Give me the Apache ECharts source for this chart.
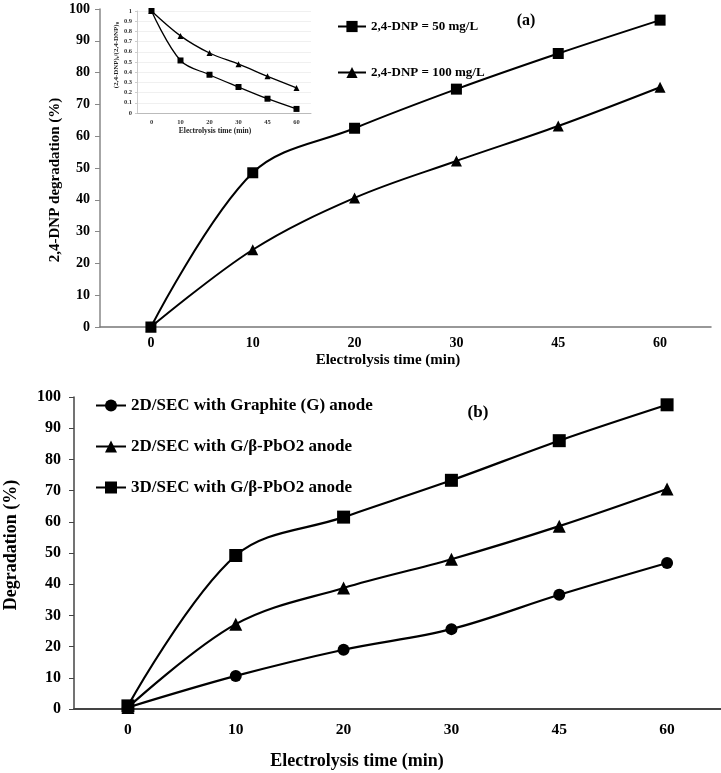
<!DOCTYPE html>
<html><head><meta charset="utf-8">
<script src="https://cdn.jsdelivr.net/npm/echarts@6/dist/echarts.min.js"></script>
<style>html,body{margin:0;padding:0;background:#fff}#c{width:721px;height:773px}</style>
</head><body><div id="c"></div>
<script>
const categories = ['0', '10', '20', '30', '45', '60'];
// Panel (a)
const a50 = [0, 48.5, 62.5, 74.8, 86, 96.5];
const a100 = [0, 24.3, 40.6, 52.2, 63.2, 75.4];
// Inset of panel (a): (2,4-DNP)t/(2,4-DNP)0
const inset50 = [1, 0.515, 0.375, 0.255, 0.14, 0.04];
const inset100 = [1, 0.756, 0.588, 0.479, 0.36, 0.246];
// Panel (b)
const bGraphite = [0.5, 10.6, 19, 25.6, 36.6, 46.8];
const bPbO2 = [0.5, 27.2, 38.8, 48, 58.6, 70.5];
const b3D = [1, 49.2, 61.5, 73.3, 86, 97.5];

const names = {
  a50: '2,4-DNP = 50 mg/L',
  a100: '2,4-DNP = 100 mg/L',
  bG: '2D/SEC with Graphite (G) anode',
  bP: '2D/SEC with G/β-PbO2 anode',
  b3: '3D/SEC with G/β-PbO2 anode'
};

const FF = '"Liberation Serif", "Times New Roman", serif';
const chart = echarts.init(document.getElementById('c'));

function lbl(size, extra) {
  return Object.assign({ fontFamily: FF, fontWeight: 'bold', fontSize: size, color: '#000' }, extra || {});
}
function ser(name, data, sym, size, xi, width, z) {
  return {
    name: name, type: 'line', data: data, xAxisIndex: xi, yAxisIndex: xi,
    smooth: 0.35, symbol: sym, symbolSize: size, showSymbol: true,
    lineStyle: { color: '#000', width: width },
    itemStyle: { color: '#000', borderWidth: 0 },
    z: z || 2
  };
}

const option = {
  animation: false,
  backgroundColor: '#fff',
  grid: [
    { left: 100, right: 10, top: 9, height: 318 },
    { left: 74, right: 0, top: 397, height: 312 },
    { left: 137, width: 174, top: 11, height: 102, show: true, backgroundColor: '#fff', borderWidth: 0, z: 5 }
  ],
  xAxis: [
    { type: 'category', gridIndex: 0, data: categories, boundaryGap: true,
      axisLine: { lineStyle: { color: '#777', width: 1.5 } }, axisTick: { show: false },
      axisLabel: lbl(14, { margin: 9 }) },
    { type: 'category', gridIndex: 1, data: categories, boundaryGap: true,
      axisLine: { lineStyle: { color: '#444', width: 2 } }, axisTick: { show: false },
      axisLabel: lbl(15.5, { margin: 13 }) },
    { type: 'category', gridIndex: 2, data: categories, boundaryGap: true, z: 6,
      axisLine: { lineStyle: { color: '#bbb', width: 1 } }, axisTick: { show: false },
      axisLabel: lbl(6.5, { margin: 6, color: '#333' }) }
  ],
  yAxis: [
    { type: 'value', gridIndex: 0, min: 0, max: 100, interval: 10,
      axisLine: { show: true, lineStyle: { color: '#888', width: 1.5 } },
      axisTick: { show: true, length: 5, lineStyle: { color: '#888' } },
      splitLine: { show: false }, axisLabel: lbl(14, { margin: 10 }) },
    { type: 'value', gridIndex: 1, min: 0, max: 100, interval: 10,
      axisLine: { show: true, lineStyle: { color: '#444', width: 1.5 } },
      axisTick: { show: true, length: 5, lineStyle: { color: '#444' } },
      splitLine: { show: false }, axisLabel: lbl(16, { margin: 13 }) },
    { type: 'value', gridIndex: 2, min: 0, max: 1, interval: 0.1, z: 6,
      axisLine: { show: true, lineStyle: { color: '#ccc', width: 1 } },
      axisTick: { show: true, length: 2, lineStyle: { color: '#ccc' } },
      splitLine: { show: true, lineStyle: { color: '#f0f0f0', width: 1 } },
      axisLabel: lbl(6.5, { margin: 5, color: '#333' }) }
  ],
  legend: [
    { data: [names.a50, names.a100], orient: 'vertical', left: 332, top: 15,
      itemWidth: 28, itemHeight: 14, itemGap: 33, itemTextGap: 3, selectedMode: false,
      textStyle: lbl(13) },
    { data: [names.bG, names.bP, names.b3], orient: 'vertical', left: 90, top: 392,
      itemWidth: 30, itemHeight: 15, itemGap: 24, itemTextGap: 3, selectedMode: false,
      textStyle: lbl(17) }
  ],
  series: [
    ser(names.a50, a50, 'rect', 11, 0, 2),
    ser(names.a100, a100, 'triangle', 11, 0, 2),
    ser(names.bG, bGraphite, 'circle', 12, 1, 2.2),
    ser(names.bP, bPbO2, 'triangle', 13, 1, 2.2),
    ser(names.b3, b3D, 'rect', 13, 1, 2.2),
    ser('inset 50 mg/L', inset50, 'rect', 6, 2, 1.3, 8),
    ser('inset 100 mg/L', inset100, 'triangle', 6, 2, 1.3, 8)
  ],
  graphic: [
    { type: 'text', x: 526, y: 21, z: 20, style: { text: '(a)', align: 'center', verticalAlign: 'middle', fill: '#000', fontFamily: FF, fontWeight: 'bold', fontSize: 16 } },
    { type: 'text', x: 478, y: 413, z: 20, style: { text: '(b)', align: 'center', verticalAlign: 'middle', fill: '#000', fontFamily: FF, fontWeight: 'bold', fontSize: 17 } },
    { type: 'text', x: 388, y: 360, z: 20, style: { text: 'Electrolysis time (min)', align: 'center', verticalAlign: 'middle', fill: '#000', fontFamily: FF, fontWeight: 'bold', fontSize: 15 } },
    { type: 'text', x: 55, y: 180, rotation: Math.PI / 2, z: 20, style: { text: '2,4-DNP degradation (%)', align: 'center', verticalAlign: 'middle', fill: '#000', fontFamily: FF, fontWeight: 'bold', fontSize: 15 } },
    { type: 'text', x: 357, y: 761, z: 20, style: { text: 'Electrolysis time (min)', align: 'center', verticalAlign: 'middle', fill: '#000', fontFamily: FF, fontWeight: 'bold', fontSize: 18 } },
    { type: 'text', x: 11, y: 545, rotation: Math.PI / 2, z: 20, style: { text: 'Degradation (%)', align: 'center', verticalAlign: 'middle', fill: '#000', fontFamily: FF, fontWeight: 'bold', fontSize: 18 } },
    { type: 'text', x: 215, y: 131, z: 20, style: { text: 'Electrolysis time (min)', align: 'center', verticalAlign: 'middle', fill: '#222', fontFamily: FF, fontWeight: 'bold', fontSize: 7.5 } },
    { type: 'text', x: 116, y: 55, rotation: Math.PI / 2, z: 20, style: {
        text: '{a|(2,4-DNP)}{s|t}{a|/(2,4-DNP)}{s|0}', align: 'center', verticalAlign: 'middle', fill: '#222',
        rich: {
          a: { fontFamily: FF, fontWeight: 'bold', fontSize: 7, fill: '#222' },
          s: { fontFamily: FF, fontWeight: 'bold', fontSize: 5, fill: '#222', verticalAlign: 'bottom', padding: [3, 0, 0, 0] }
        } } }
  ]
};
chart.setOption(option);
</script>
</body></html>
